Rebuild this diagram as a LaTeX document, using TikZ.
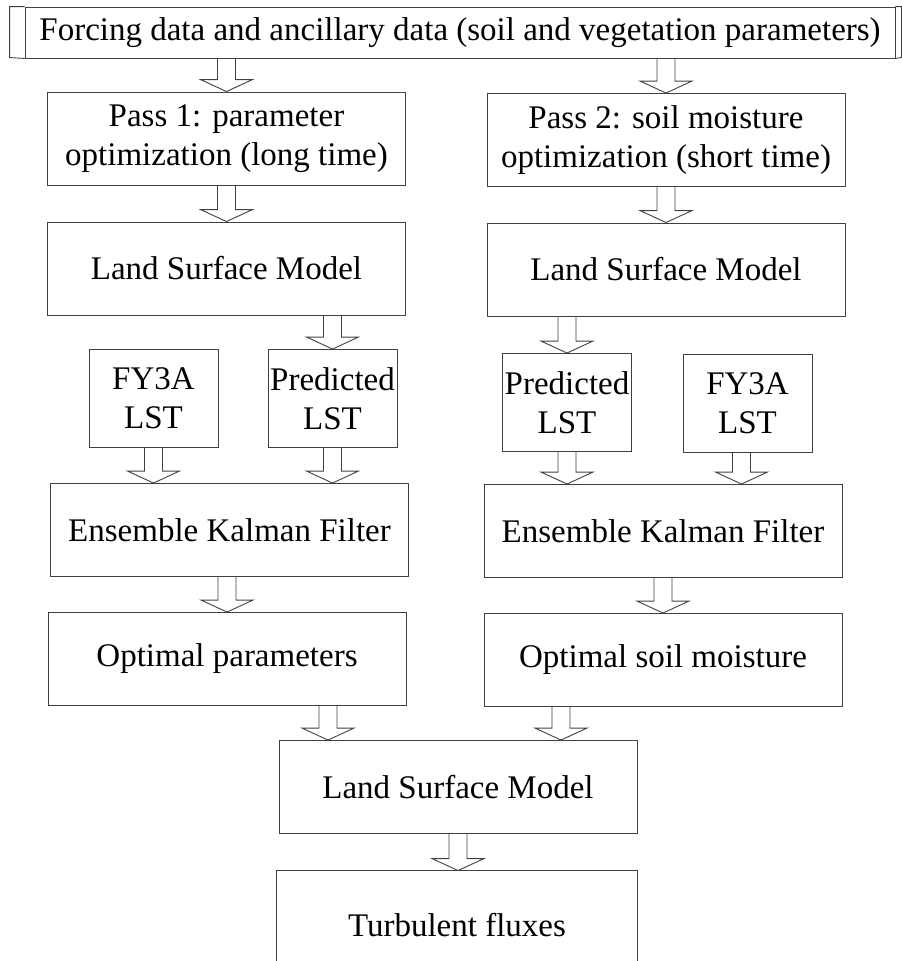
\documentclass[tikz,border=0pt]{standalone}
\usepackage{fontspec}
\setmainfont{Liberation Serif}
\usetikzlibrary{calc}

\tikzset{
  box/.style={draw=black!75, line width=0.9pt, minimum width=358pt, minimum height=93pt,
    align=center, inner sep=0pt, font=\fontsize{33}{39}\selectfont},
  smallbox/.style={box, minimum width=129pt, minimum height=98pt},
  fatarr/.style={draw=black!75, line width=0.9pt, line join=miter}
}

% hollow block arrow from a point down to the top of a node
\newcommand{\fatarrow}[2]{%
  \draw[fatarr] let \p1=(#1), \p2=(#2.north) in
    (\x1-9pt,\y1) -- (\x1-9pt,\y2+12pt) -- (\x1-26pt,\y2+12pt) -- (\x1,\y2)
    -- (\x1+26pt,\y2+12pt) -- (\x1+9pt,\y2+12pt) -- (\x1+9pt,\y1);}

\begin{document}
\begin{tikzpicture}[x=1pt,y=-1pt]
\useasboundingbox (0,0) rectangle (902,961);

% input
\node[box, minimum width=870pt, minimum height=51pt] (top) at (460,32.5)
  {Forcing data and ancillary data (soil and vegetation parameters)};
\draw[fatarr] (top.north west) -- ++(-15,0) -- ++(0,51) -- (top.south west);
\draw[fatarr] (top.north east) -- ++(6,0) -- ++(0,51) -- (top.south east);

% pass 1
\node[box] (pass1) at (226.5,138.5) {Pass 1: parameter\\optimization (long time)};
\node[box] (lsm1) at (226.5,268.5) {Land Surface Model};
\node[smallbox] (fy1) at (153.5,398.5) {FY3A\\LST};
\node[smallbox] (pred1) at (332.5,398.5) {Predicted\\LST};
\node[box] (enkf1) at (229.5,530) {Ensemble Kalman Filter};
\node[box] (opt1) at (227,659) {Optimal parameters};

% pass 2
\node[box] (pass2) at (666,140) {Pass 2: soil moisture\\optimization (short time)};
\node[box] (lsm2) at (666,269.5) {Land Surface Model};
\node[smallbox] (pred2) at (567,402.5) {Predicted\\LST};
\node[smallbox] (fy2) at (747.5,403) {FY3A\\LST};
\node[box] (enkf2) at (663,531) {Ensemble Kalman Filter};
\node[box] (opt2) at (663,660) {Optimal soil moisture};

% final run
\node[box] (final) at (458,787) {Land Surface Model};
\node[box, draw=none, minimum width=360pt, minimum height=108pt] (turb) at (457,925) {Turbulent fluxes};
\draw[fatarr] (turb.north west |- 0,961) -- (turb.north west) -- (turb.north east) -- (turb.north east |- 0,961);

\fatarrow{pass1.north |- top.south}{pass1}
\fatarrow{pass2.north |- top.south}{pass2}
\fatarrow{pass1.south}{lsm1}
\fatarrow{pass2.south}{lsm2}
\fatarrow{pred1.north |- lsm1.south}{pred1}
\fatarrow{pred2.north |- lsm2.south}{pred2}
\fatarrow{fy1.south}{enkf1}
\fatarrow{pred1.south}{enkf1}
\fatarrow{pred2.south}{enkf2}
\fatarrow{$(fy2.south)+(-6,0)$}{enkf2}
\fatarrow{opt1.north |- enkf1.south}{opt1}
\fatarrow{enkf2.south}{opt2}
\fatarrow{$(opt1.south)+(101,0)$}{final}
\fatarrow{$(opt2.south)+(-102,0)$}{final}
\fatarrow{final.south}{turb}
\end{tikzpicture}
\end{document}
